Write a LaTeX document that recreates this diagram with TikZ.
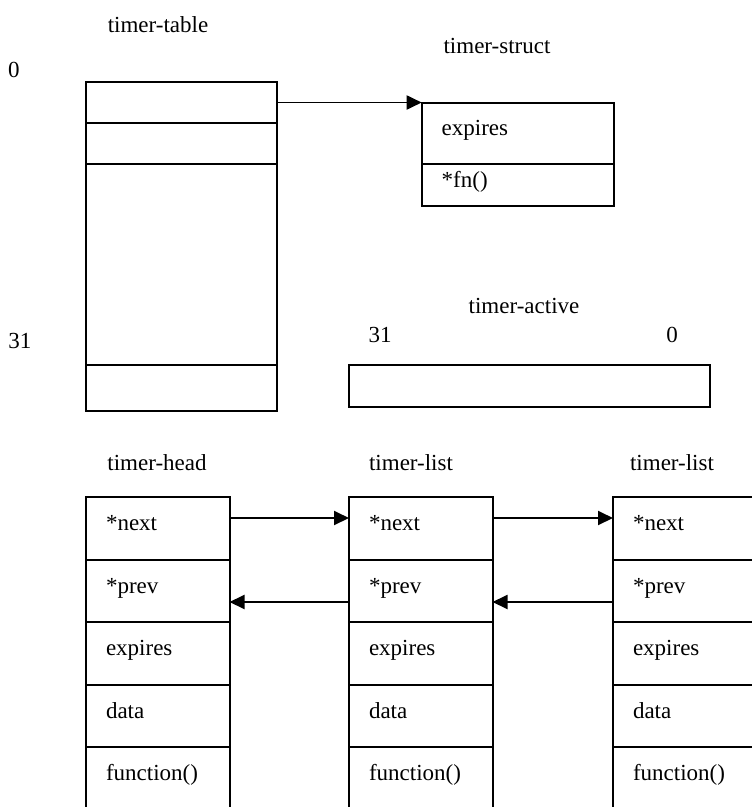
\documentclass[tikz,border=0pt]{standalone}
\usepackage{fontspec}
\setmainfont{Liberation Serif}
\usetikzlibrary{positioning,arrows.meta}

\tikzset{
  cell/.style={draw, line width=2pt, rectangle, inner sep=0pt, outer sep=0pt,
    minimum width=143.5pt, minimum height=62.5pt, text width=103.5pt, align=left,
    text height=13pt, text depth=8pt},
  field/.style={cell, minimum width=192pt, text width=152pt},
  slot/.style={draw, line width=2pt, rectangle, inner sep=0pt, outer sep=0pt, minimum width=191pt},
  ptr/.style={line width=1.9pt, -{Triangle[length=15pt,width=14pt]}},
  tag/.style={anchor=base, inner sep=0pt},
}

\begin{document}
\begin{tikzpicture}[x=1pt, y=-1pt, every node/.style={font=\fontsize{23}{27}\selectfont}]
			%%%%% FRAME %%%%%
			\useasboundingbox (0,0) rectangle (752,807);
			\clip (0,0) rectangle (752,807);
			
			%%%%% TIMER TABLE %%%%%
			\node[tag] (ttab) at (158,32) {timer-table};
			\node[tag] (idx0) at (14,77) {0};
			\node[tag] (idx31) at (20,348) {31};
			
			\node[slot, anchor=north west, minimum height=41pt] (t0) at (86,82) {};
			\node[slot, below=0pt of t0, minimum height=41pt] (t1) {};
			\node[slot, below=0pt of t1, minimum height=201pt] (tmid) {};
			\node[slot, below=0pt of tmid, minimum height=46pt] (t31) {};
			
			%%%%% TIMER STRUCT %%%%%
			\node[tag] (tstr) at (497,53) {timer-struct};
			\node[field, anchor=north west, minimum height=61.5pt] (s1) at (421.7,102.5) {expires};
			\node[field, below=0pt of s1, minimum height=42pt] (s2) {*fn()};
			
			\draw[ptr] (t0.east) -- (s1.north west);
			
			%%%%% TIMER ACTIVE %%%%%
			\node[tag] (tact) at (524,313) {timer-active};
			\node[tag] (bit31) at (380,342) {31};
			\node[tag] (bit0) at (672,342) {0};
			\node[draw, line width=2pt, anchor=north west, inner sep=0pt, outer sep=0pt,
			      minimum width=361pt, minimum height=42pt] (act) at (349,365) {};
			
			%%%%% LISTS %%%%%
			\node[tag] (thead) at (157,470) {timer-head};
			\node[tag] (tlist1) at (411,470) {timer-list};
			\node[tag] (tlist2) at (672,470) {timer-list};
			
			\node[cell, anchor=north west] (h1) at (86,497) {*next};
			\node[cell, below=0pt of h1] (h2) {*prev};
			\node[cell, below=0pt of h2] (h3) {expires};
			\node[cell, below=0pt of h3] (h4) {data};
			\node[cell, below=0pt of h4] (h5) {function()};
			
			\node[cell, anchor=north west] (m1) at (349,497) {*next};
			\node[cell, below=0pt of m1] (m2) {*prev};
			\node[cell, below=0pt of m2] (m3) {expires};
			\node[cell, below=0pt of m3] (m4) {data};
			\node[cell, below=0pt of m4] (m5) {function()};
			
			\node[cell, anchor=north west] (r1) at (613,497) {*next};
			\node[cell, below=0pt of r1] (r2) {*prev};
			\node[cell, below=0pt of r2] (r3) {expires};
			\node[cell, below=0pt of r3] (r4) {data};
			\node[cell, below=0pt of r4] (r5) {function()};
			
			% next / prev pointers
			\draw[ptr] ([yshift=-21pt]h1.north east) -- ([yshift=-21pt]m1.north west);
			\draw[ptr] ([yshift=-21pt]m1.north east) -- ([yshift=-21pt]r1.north west);
			\draw[ptr] ([yshift=20pt]m2.south west) -- ([yshift=20pt]h2.south east);
			\draw[ptr] ([yshift=20pt]r2.south west) -- ([yshift=20pt]m2.south east);
			
			%%%%% END %%%%%
\end{tikzpicture}
\end{document}
